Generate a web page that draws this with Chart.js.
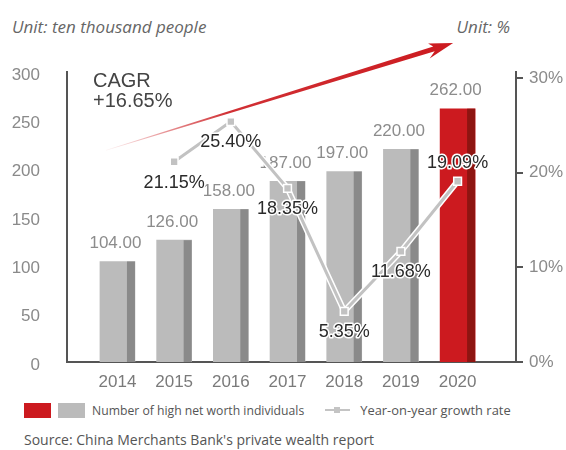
<!DOCTYPE html>
<html>
<head>
<meta charset="utf-8">
<script src="https://cdn.jsdelivr.net/npm/chart.js@4.4.1/dist/chart.umd.min.js"></script>
<style>
    body { margin: 0; background: #fff; }
    #wrap { position: relative; width: 566px; height: 450px; overflow: hidden; font-family: "Open Sans", sans-serif; color: #555; }
    #chartBox { position: absolute; left: 0; top: 0; width: 566px; height: 395px; }
    .unit { position: absolute; top: 15px; font-style: italic; font-size: 17px; color: #666; }
    #unitLeft { left: 12px; }
    #unitRight { right: 56px; }
    #legend { position: absolute; left: 24px; top: 401px; display: flex; align-items: center; font-size: 12.2px; color: #555; white-space: nowrap; }
    #legend .rateText { font-size: 12.9px; }
    .swatch { width: 27px; height: 15px; margin-right: 7px; }
    .lineKey { position: relative; width: 25px; height: 10px; margin: 0 10px 0 21px; }
    .lineKey::before { content: ""; position: absolute; left: 0; right: 0; top: 4px; height: 2px; background: #c4c4c4; }
    .lineKey::after { content: ""; position: absolute; left: 9px; top: 2px; width: 6px; height: 6px; background: #c4c4c4; }
    #source { position: absolute; left: 24px; top: 430px; font-size: 14px; color: #555; }
</style>
</head>
<body>
<div id="wrap">
    <div class="unit" id="unitLeft">Unit: ten thousand people</div>
    <div class="unit" id="unitRight">Unit: %</div>
    <div id="chartBox"><canvas id="hnwChart"></canvas></div>
    <div id="legend">
        <div class="swatch" style="background:#cc1a1f"></div>
        <div class="swatch" style="background:#bbbbbb"></div>
        <span>Number of high net worth individuals</span>
        <div class="lineKey"></div>
        <span class="rateText">Year-on-year growth rate</span>
    </div>
    <div id="source">Source: China Merchants Bank's private wealth report</div>
</div>

<script>
// Data
const years = [2014, 2015, 2016, 2017, 2018, 2019, 2020];
const hnwIndividuals = [104, 126, 158, 187, 197, 220, 262];
const growthRate = [null, 21.15, 25.40, 18.35, 5.35, 11.68, 19.09];
const countTicks = [0, 50, 100, 150, 200, 250, 300];
const rateTicks = [0, 10, 20, 30];
const cagrText = ['CAGR', '+16.65%'];

const FONT = '"Liberation Sans", Arial, sans-serif';
const lastIdx = years.length - 1;

// Colours
const barFront = i => (i === lastIdx ? '#cc1a1f' : '#bbbbbb');
const barSide = i => (i === lastIdx ? '#8e1511' : '#8a8a8a');

// Dark right-hand strip on every bar + value labels above
const barDecor = {
    id: 'barDecor',
    afterDatasetDraw(chart, args) {
        if (args.index !== 1) return;
        const ctx = chart.ctx;
        const meta = args.meta;
        ctx.save();
        meta.data.forEach((bar, i) => {
            const right = bar.x + bar.width / 2;
            ctx.fillStyle = barSide(i);
            ctx.fillRect(right - 8, bar.y, 8, bar.base - bar.y);
            ctx.font = '17px ' + FONT;
            ctx.fillStyle = '#8c8c8c';
            ctx.textAlign = 'center';
            ctx.textBaseline = 'middle';
            ctx.fillText(hnwIndividuals[i].toFixed(2), bar.x - 2, bar.y - 18);
        });
        ctx.restore();
    }
};

// White halo under the growth line, labels on the points
const lineDecor = {
    id: 'lineDecor',
    beforeDatasetDraw(chart, args) {
        if (args.index !== 0) return;
        const ctx = chart.ctx;
        const pts = args.meta.data.filter((p, i) => growthRate[i] !== null);
        ctx.save();
        ctx.strokeStyle = '#ffffff';
        ctx.lineWidth = 6;
        ctx.lineJoin = 'round';
        ctx.beginPath();
        pts.forEach((p, i) => (i ? ctx.lineTo(p.x, p.y) : ctx.moveTo(p.x, p.y)));
        ctx.stroke();
        ctx.restore();
    },
    afterDatasetsDraw(chart) {
        const ctx = chart.ctx;
        const meta = chart.getDatasetMeta(0);
        ctx.save();
        ctx.font = '18px ' + FONT;
        ctx.textAlign = 'center';
        ctx.textBaseline = 'middle';
        ctx.lineJoin = 'round';
        meta.data.forEach((p, i) => {
            if (growthRate[i] === null) return;
            const text = growthRate[i].toFixed(2) + '%';
            const y = i === lastIdx ? p.y - 18 : p.y + 21;
            ctx.strokeStyle = '#ffffff';
            ctx.lineWidth = 3;
            ctx.strokeText(text, p.x, y);
            ctx.fillStyle = '#2a2a2a';
            ctx.fillText(text, p.x, y);
        });
        ctx.restore();
    }
};

// Rising CAGR arrow and its caption
const cagrArrow = {
    id: 'cagrArrow',
    afterDatasetsDraw(chart) {
        const { ctx, chartArea, scales } = chart;
        const x0 = scales.x.getPixelForValue(2013.8), y0 = scales.y.getPixelForValue(219);
        const x1 = scales.x.getPixelForValue(2019.92), y1 = scales.y.getPixelForValue(330);
        const len = Math.hypot(x1 - x0, y1 - y0);
        const dx = (x1 - x0) / len, dy = (y1 - y0) / len;
        const nx = -dy, ny = dx;
        const head = 24;
        const bx = x1 - dx * head, by = y1 - dy * head;

        ctx.save();
        const grad = ctx.createLinearGradient(x0, y0, x1, y1);
        grad.addColorStop(0, 'rgba(204,26,31,0.05)');
        grad.addColorStop(0.35, 'rgba(204,26,31,0.9)');
        grad.addColorStop(1, '#cc1a1f');
        ctx.fillStyle = grad;
        ctx.beginPath();
        ctx.moveTo(x0 + nx * 0.3, y0 + ny * 0.3);
        ctx.lineTo(bx + dx * 4 + nx * 2.5, by + dy * 4 + ny * 2.5);
        ctx.lineTo(bx - dx * 3 + nx * 8, by - dy * 3 + ny * 8);
        ctx.lineTo(x1, y1);
        ctx.lineTo(bx - nx * 7, by - ny * 7);
        ctx.lineTo(bx + dx * 4 - nx * 2.5, by + dy * 4 - ny * 2.5);
        ctx.lineTo(x0 - nx * 0.3, y0 - ny * 0.3);
        ctx.closePath();
        ctx.fill();

        ctx.fillStyle = '#444';
        ctx.font = '20px ' + FONT;
        ctx.textAlign = 'left';
        ctx.textBaseline = 'middle';
        ctx.fillText(cagrText[0], chartArea.left + 26, chartArea.top + 9);
        ctx.fillText(cagrText[1], chartArea.left + 26, chartArea.top + 29);
        ctx.restore();
    }
};

const tickFont = { family: FONT, size: 17 };

new Chart(document.getElementById('hnwChart').getContext('2d'), {
    type: 'bar',
    data: {
        datasets: [
            {
                type: 'line',
                label: 'Year-on-year growth rate',
                data: years.map((yr, i) => ({ x: yr, y: growthRate[i] })),
                yAxisID: 'y2',
                borderColor: '#c2c2c2',
                borderWidth: 3,
                pointStyle: 'rect',
                pointRadius: 5.5,
                pointBackgroundColor: '#c2c2c2',
                pointBorderColor: '#ffffff',
                pointBorderWidth: 1.5,
                spanGaps: false,
                order: 0
            },
            {
                label: 'Number of high net worth individuals',
                data: years.map((yr, i) => ({ x: yr, y: hnwIndividuals[i] })),
                yAxisID: 'y',
                backgroundColor: ctx => barFront(ctx.dataIndex),
                barThickness: 35,
                order: 1
            }
        ]
    },
    options: {
        responsive: true,
        maintainAspectRatio: false,
        animation: false,
        devicePixelRatio: 1,
        layout: { padding: { top: 72, left: 0, right: 0, bottom: 0 } },
        plugins: {
            legend: { display: false },
            tooltip: { enabled: false }
        },
        scales: {
            x: {
                type: 'linear',
                offset: false,
                min: 2013.11,
                max: 2021.03,
                afterBuildTicks: s => { s.ticks = years.map(v => ({ value: v })); },
                afterFit: s => { s.height = 33; },
                grid: { display: false },
                border: { display: true, color: '#555', width: 2 },
                ticks: { color: '#7a7a7a', font: tickFont, padding: 2, callback: v => String(v) }
            },
            y: {
                position: 'left',
                min: 0,
                max: 300,
                afterBuildTicks: s => { s.ticks = countTicks.map(v => ({ value: v })); },
                afterFit: s => { s.width = 67; },
                grid: { display: false },
                border: { display: true, color: '#555', width: 2 },
                ticks: { color: '#8a8a8a', font: tickFont, padding: 19, labelOffset: 3 }
            },
            y2: {
                position: 'right',
                min: 0,
                max: 30.63,
                afterBuildTicks: s => { s.ticks = rateTicks.map(v => ({ value: v })); },
                afterFit: s => { s.width = 50; },
                grid: { display: true, drawOnChartArea: false, drawTicks: true, tickLength: 7, color: '#555', lineWidth: 2 },
                border: { display: true, color: '#555', width: 2 },
                ticks: { color: '#8a8a8a', font: tickFont, padding: 6, callback: v => v + '%' }
            }
        }
    },
    plugins: [barDecor, lineDecor, cagrArrow]
});
</script>
</body>
</html>
